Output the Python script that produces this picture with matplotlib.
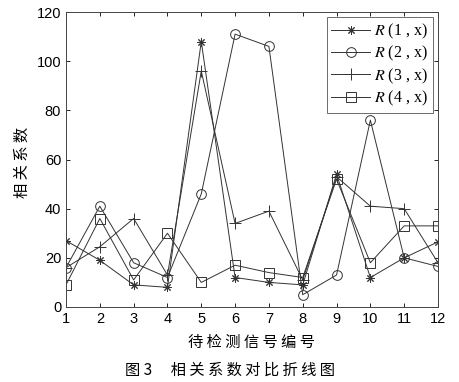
import matplotlib
matplotlib.use("Agg")
import matplotlib.pyplot as plt

x = list(range(1, 13))
r1 = [27, 19, 9, 8, 108, 12, 10, 9, 54, 12, 20, 26.5]
r2 = [16, 41, 18, 12, 46, 111, 106, 5, 13, 76, 20, 16.5]
r3 = [16, 24.5, 36, 13, 96, 34, 39, 11, 53, 41, 40, 18]
r4 = [9, 36, 11, 30, 10, 17, 14, 12, 52, 18, 33, 33]
labels = ["$R$ (1 , x)", "$R$ (2 , x)", "$R$ (3 , x)", "$R$ (4 , x)"]
markers = [(8, 2, 0), "o", "+", "s"]
sizes = [6, 7, 8, 7]

plt.rcParams['font.family'] = ['Liberation Sans', 'Noto Sans CJK SC', 'DejaVu Sans']
plt.rcParams['mathtext.fontset'] = 'stix'

fig = plt.figure(figsize=(4.6, 3.82), dpi=100)
ax = fig.add_axes([66/460, 1 - 307/382, (438-66)/460, (307-12)/382])

for ys, m, s, lab in zip([r1, r2, r3, r4], markers, sizes, labels):
    ax.plot(x, ys, color="#333333", lw=0.7, marker=m, ms=s,
            mfc="none", mec="#333333", mew=0.7, label=lab)

ax.set_xlim(1, 12)
ax.set_ylim(0, 120)
ax.set_xticks(x)
ax.set_yticks(range(0, 121, 20))
ax.tick_params(direction="in", top=True, right=True, labelsize=10.5, length=3, width=0.6)
for s in ax.spines.values():
    s.set_linewidth(0.7)
    s.set_color("#444444")

leg = ax.legend(loc="upper right", fancybox=False, borderaxespad=0.3, handlelength=2.4,
                prop={'family': 'Liberation Serif', 'size': 11.5}, labelspacing=0.2,
                borderpad=0.3, handletextpad=0.3)
leg.get_frame().set_edgecolor("#444444")
leg.get_frame().set_linewidth(0.7)

cjk = ['Noto Sans CJK SC']
fig.text(22/460, 1 - 162/382, "相 关 系 数", family=cjk, fontsize=11,
         rotation=90, ha="center", va="center")
ax.set_xlabel("待 检 测 信 号 编 号", family=cjk, fontsize=11, labelpad=6)
fig.text(0.5, 1 - 370/382, "图 3\u3000 相 关 系 数 对 比 折 线 图", family=cjk,
         fontsize=11, ha="center", va="center")

fig.savefig("out.png", dpi=100)
